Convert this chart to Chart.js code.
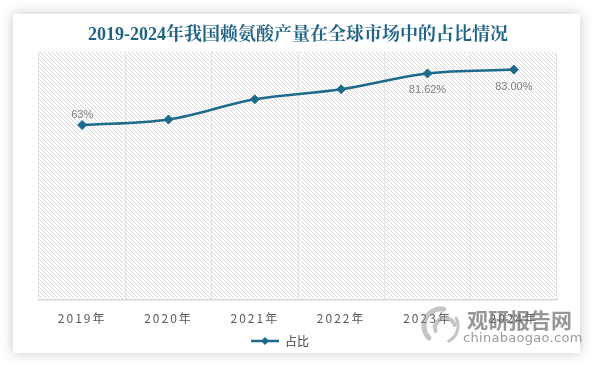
<!DOCTYPE html>
<html><head><meta charset="utf-8">
<script src="https://cdn.jsdelivr.net/npm/chart.js@4/dist/chart.umd.min.js"></script>
<style>
html,body{margin:0;padding:0;background:#fff;width:594px;height:366px;overflow:hidden;}
#card{position:absolute;left:13px;top:14px;width:567px;height:339px;background:#fff;box-shadow:0 0 12px rgba(0,0,0,0.22);}
#wrap{position:absolute;left:0;top:0;width:594px;height:366px;}
</style></head><body>
<div id="card"></div>
<div id="wrap"><canvas id="c" width="594" height="366"></canvas></div>
<script>
// ---- data ----
const years = ['2019年', '2020年', '2021年', '2022年', '2023年', '2024年'];
const shareValues = [63, 65, 72.3, 75.9, 81.62, 83];
const valueLabels = ['63%', '', '', '', '81.62%', '83.00%'];
const seriesName = '占比';
const chartTitle = '2019-2024年我国赖氨酸产量在全球市场中的占比情况';
const watermarkCn = '观研报告网';
const watermarkEn = 'chinabaogao.com';

const LINE_COLOR = '#1d6a8d';
const CJK = "'Noto Sans CJK SC', 'Noto Sans', sans-serif";

// hatch pattern for plot area
const hatch = document.createElement('canvas');
hatch.width = 4; hatch.height = 4;
const hc = hatch.getContext('2d');
hc.fillStyle = '#dadada';
for (let i = 0; i < 4; i++) hc.fillRect(i, i, 1, 1);

// legend marker: line with diamond
const marker = document.createElement('canvas');
marker.width = 28; marker.height = 10;
(function () {
  const m = marker.getContext('2d');
  m.strokeStyle = LINE_COLOR; m.lineWidth = 2.5;
  m.beginPath(); m.moveTo(0, 5); m.lineTo(28, 5); m.stroke();
  m.fillStyle = LINE_COLOR;
  m.beginPath(); m.moveTo(14, 1); m.lineTo(18, 5); m.lineTo(14, 9); m.lineTo(10, 5); m.closePath(); m.fill();
})();

const hatchPlugin = {
  id: 'hatch',
  beforeDraw(chart) {
    const {ctx, chartArea: a} = chart;
    ctx.save();
    ctx.fillStyle = ctx.createPattern(hatch, 'repeat');
    ctx.fillRect(a.left, a.top, a.right - a.left, a.bottom - a.top);
    ctx.restore();
    const xs = chart.scales.x;
    if (!xs._spacedWrap) {
      const orig = xs.drawLabels;
      xs.drawLabels = function (ca) {
        const c = this.ctx;
        c.save();
        c.letterSpacing = '2px';
        orig.call(this, ca);
        c.restore();
      };
      xs._spacedWrap = true;
    }
  },
  afterLayout(chart) {
    const lg = chart.legend;
    if (lg) { lg.left -= 18; lg.right -= 18; lg.top -= 3; lg.bottom -= 3; }
  }
};

const valueLabelPlugin = {
  id: 'valueLabels',
  afterDatasetsDraw(chart) {
    const {ctx} = chart;
    const meta = chart.getDatasetMeta(0);
    ctx.save();
    ctx.font = "11px 'Liberation Sans', Arial, sans-serif";
    ctx.fillStyle = '#7f7f7f';
    ctx.textAlign = 'center';
    ctx.textBaseline = 'middle';
    meta.data.forEach((el, i) => {
      const t = valueLabels[i];
      if (!t) return;
      const dy = i === 0 ? -10 : 17;
      ctx.fillText(t, el.x, el.y + dy);
    });
    ctx.restore();
  }
};

const watermarkPlugin = {
  id: 'watermark',
  afterDraw(chart) {
    const {ctx} = chart;
    ctx.save();
    // swirl logo
    ctx.strokeStyle = 'rgba(150,150,150,0.55)';
    ctx.lineCap = 'round';
    ctx.lineWidth = 5;
    ctx.beginPath(); ctx.arc(441, 326, 17, Math.PI * 0.75, Math.PI * 1.55); ctx.stroke();
    ctx.lineWidth = 4;
    ctx.beginPath(); ctx.arc(445, 328, 10, Math.PI * 0.9, Math.PI * 1.9); ctx.stroke();
    ctx.lineWidth = 3;
    ctx.beginPath(); ctx.arc(441, 326, 17, Math.PI * 1.85, Math.PI * 0.35); ctx.stroke();
    ctx.fillStyle = 'rgba(110,110,110,0.72)';
    ctx.textAlign = 'left';
    ctx.textBaseline = 'middle';
    ctx.font = "bold 21px " + CJK;
    ctx.fillText(watermarkCn, 467, 320);
    ctx.fillStyle = 'rgba(120,120,120,0.75)';
    ctx.font = "13px 'DejaVu Sans', sans-serif";
    ctx.letterSpacing = '0.3px';
    ctx.fillText(watermarkEn, 463, 339);
    ctx.restore();
  }
};

new Chart(document.getElementById('c'), {
  type: 'line',
  data: {
    labels: years,
    datasets: [{
      label: seriesName,
      data: shareValues,
      borderColor: LINE_COLOR,
      backgroundColor: LINE_COLOR,
      borderWidth: 2.5,
      tension: 0.35,
      pointStyle: 'rectRot',
      pointRadius: 4.5,
      pointBorderWidth: 1,
      pointBackgroundColor: LINE_COLOR,
      pointBorderColor: LINE_COLOR,
      fill: false
    }]
  },
  options: {
    responsive: false,
    animation: false,
    devicePixelRatio: 1,
    layout: {padding: {left: 39, right: 37, top: 25, bottom: 6}},
    scales: {
      x: {
        offset: true,
        grid: {
          offset: true,
          drawTicks: false,
          color: (c) => (c.index === years.length ? 'rgba(0,0,0,0)' : '#e3e3e3'),
          lineWidth: 1
        },
        border: {display: true, color: '#d9d9d9', width: 1.5},
        ticks: {
          padding: 12,
          color: '#595959',
          font: {family: CJK, size: 12}
        }
      },
      y: {
        display: false,
        min: 0,
        max: 89.5
      }
    },
    plugins: {
      title: {
        display: true,
        text: chartTitle,
        color: '#1f6386',
        font: {family: "'Liberation Serif', 'Noto Serif CJK SC', " + CJK, size: 18, weight: 'bold'},
        padding: {top: 0, bottom: 5}
      },
      legend: {
        display: true,
        position: 'bottom',
        labels: {
          usePointStyle: true,
          pointStyle: marker,
          pointStyleWidth: 28,
          padding: 0,
          color: '#404040',
          font: {family: CJK, size: 12}
        }
      },
      tooltip: {enabled: false}
    }
  },
  plugins: [hatchPlugin, valueLabelPlugin, watermarkPlugin]
});
</script>
</body></html>
